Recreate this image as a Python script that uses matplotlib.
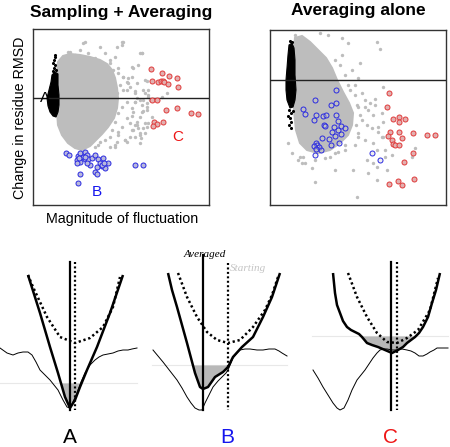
import numpy as np
import matplotlib
matplotlib.use("Agg")
import matplotlib.pyplot as plt

plt.rcParams['font.family'] = ['Liberation Sans', 'DejaVu Sans']

# positions are read off the picture, in pixels of the 450x447 image
# ---------------- top left: Sampling + Averaging ----------------
sa_core_x = [58, 63, 70, 80, 90, 100, 107, 112, 115, 117, 118, 117, 114, 108, 102, 96, 90, 82, 75, 68, 62, 58, 57, 57, 57]
sa_core_y = [62, 56, 54, 55, 57, 60, 64, 70, 78, 88, 98, 108, 118, 127, 134, 140, 146, 150, 148, 143, 135, 125, 110, 90, 75]
sa_gray_x = [83, 123, 122, 140, 68, 80, 110, 118, 132, 137, 143, 148, 140, 135, 147, 133, 140, 130, 135, 118,
             110, 100, 95, 87, 138, 140, 127, 115, 147, 150, 158, 162, 167, 123, 128, 100, 142, 133, 128, 147,
             127, 135, 145, 148, 137, 142, 147, 143, 132, 148, 115, 117, 125, 137, 140, 145, 133, 130,
             70, 75, 83, 88, 95, 105, 115, 110, 105, 113, 118, 123, 127, 113, 120, 130, 123, 135, 117, 127,
             135, 143, 122, 132, 142, 118, 127, 137, 145, 115, 122, 132, 140, 112, 118, 105, 135, 125, 141, 98,
             110, 85, 117, 122, 142, 132, 145, 138, 148, 147, 152, 143]
sa_gray_y = [43, 42, 45, 53, 52, 50, 60, 68, 77, 83, 90, 97, 100, 102, 103, 112, 117, 123, 125, 132,
             137, 142, 147, 143, 128, 143, 142, 147, 127, 100, 100, 97, 93, 77, 83, 47, 53, 68, 78, 81,
             90, 91, 93, 95, 98, 105, 110, 111, 116, 123, 145, 142, 140, 125, 135, 133, 130, 137,
             52, 55, 57, 53, 58, 53, 57, 63, 68, 70, 73, 77, 82, 80, 85, 87, 90, 93, 93, 102,
             102, 100, 107, 108, 112, 113, 118, 122, 123, 122, 127, 130, 133, 130, 135, 140, 137, 140, 138, 145,
             147, 42, 47, 42, 53, 67, 80, 65, 90, 107, 117, 128]
sa_black_x = [52, 55, 58, 58, 59, 59, 58, 56, 53, 50, 48, 47, 49, 51]
sa_black_y = [75, 72, 74, 85, 95, 105, 112, 117, 116, 112, 106, 98, 90, 82]
sa_black_pts_x = [55, 55, 54, 53, 55, 54, 53, 56]
sa_black_pts_y = [55, 57, 60, 63, 65, 68, 71, 70]
sa_red_x = [151, 162, 169, 177, 152, 158, 161, 163, 164, 168, 178, 152, 157, 166, 177, 191, 198, 154, 157, 163, 153]
sa_red_y = [69, 73, 76, 78, 81, 82, 81, 81, 82, 84, 87, 100, 100, 110, 108, 113, 114, 122, 124, 122, 126]
sa_blue_x = [66, 69, 78, 80, 85, 87, 83, 77, 80, 85, 88, 92, 95, 98, 103, 108, 100, 102, 105, 97,
             90, 87, 77, 95, 97, 80, 78, 102, 104, 135, 143, 85, 79]
sa_blue_y = [153, 155, 156, 153, 152, 155, 157, 160, 162, 159, 159, 158, 155, 159, 158, 163, 163, 166, 168, 167,
             165, 163, 163, 172, 174, 174, 183, 165, 163, 165, 165, 157, 158]

# ---------------- top right: Averaging alone ----------------
av_core_x = [295, 302, 310, 318, 326, 332, 337, 343, 349, 353, 352, 348, 340, 330, 318, 307, 300, 296, 294, 294, 294]
av_core_y = [38, 36, 42, 50, 58, 68, 80, 92, 103, 113, 125, 135, 143, 150, 153, 150, 143, 130, 110, 80, 55]
av_gray_x = [295, 320, 328, 342, 348, 360, 358, 377, 380, 352, 355, 350, 362, 365, 358, 368, 373, 362, 367, 372,
             378, 382, 358, 365, 373, 355, 345, 335, 325, 315, 305, 303, 312, 315, 335, 353, 357, 368, 377, 385,
             392, 415, 412, 377, 288, 292, 302, 383, 375, 370, 365, 375, 382, 383, 378, 383, 377, 385, 367, 373, 387,
             335, 340, 345, 342, 348, 355, 357, 360, 356, 358, 330, 338, 345, 300, 298]
av_gray_y = [35, 33, 35, 38, 43, 63, 78, 42, 49, 70, 85, 90, 93, 100, 107, 110, 115, 120, 125, 128,
             132, 137, 133, 140, 143, 145, 150, 153, 158, 160, 163, 157, 168, 182, 170, 170, 197, 173, 167, 157,
             155, 148, 157, 180, 143, 153, 163, 87, 99, 103, 107, 105, 113, 122, 127, 137, 150, 150, 160, 163, 170,
             60, 65, 75, 55, 85, 95, 105, 115, 125, 137, 157, 152, 145, 157, 160]
av_black_x = [289, 292, 294, 295, 295, 296, 295, 293, 290, 287, 286, 286, 287, 288]
av_black_y = [45, 43, 48, 60, 75, 90, 100, 107, 108, 100, 90, 80, 68, 55]
av_black_pts_x = [290, 292, 289, 291, 288, 290, 291, 289, 291, 293]
av_black_pts_y = [41, 42, 110, 113, 116, 118, 122, 125, 128, 111]
av_red_x = [389, 387, 393, 399, 399, 405, 390, 399, 413, 427, 435, 388, 392, 402, 393, 395, 399, 413, 404, 414,
            389, 398, 402]
av_red_y = [93, 107, 119, 117, 122, 119, 132, 132, 133, 135, 135, 136, 140, 138, 144, 145, 145, 153, 162, 179,
            184, 181, 185]
av_blue_x = [336, 315, 336, 331, 303, 305, 316, 314, 323, 326, 336, 338, 324, 325, 334, 341, 345, 338, 332, 341,
             335, 322, 329, 316, 317, 314, 319, 321, 331, 339, 315, 316, 372, 380]
av_blue_y = [90, 100, 103, 105, 109, 114, 115, 120, 116, 115, 115, 121, 125, 126, 127, 126, 128, 130, 132, 134,
             136, 138, 139, 143, 145, 146, 147, 150, 145, 143, 155, 149, 153, 160]

# ---------------- bottom: energy schematics A, B, C ----------------
a_thick_x = [28, 40, 50, 58, 65, 70, 75, 80, 87, 97, 110, 123]
a_thick_y = [275, 313, 347, 373, 397, 408, 400, 387, 370, 347, 313, 275]
a_dot_x = [28, 33, 47, 60, 75, 90, 103, 113, 120]
a_dot_y = [275, 287, 317, 337, 343, 338, 327, 307, 277]
a_thin_x = [0, 7, 13, 18, 23, 28, 32, 36, 40, 45, 50, 54, 58, 63, 67, 70, 73, 77, 81, 85, 90, 95, 99, 103,
            108, 113, 118, 123, 128, 132, 137]
a_thin_y = [348, 353, 355, 353, 352, 352, 355, 362, 370, 375, 380, 385, 390, 400, 407, 408, 402, 393, 382, 373,
            365, 360, 357, 355, 354, 353, 351, 350, 350, 349, 348]
a_level = 383
a_avg, a_start = 70, 75

b_thick_x = [168, 172, 177, 182, 187, 191, 195, 200, 203, 208, 215, 223, 228, 233, 242, 253, 263, 272, 280]
b_thick_y = [273, 290, 307, 325, 343, 358, 373, 387, 389, 387, 377, 372, 367, 357, 347, 337, 317, 297, 273]
b_dot_x = [178, 187, 197, 207, 217, 228, 240, 253, 265, 272, 278]
b_dot_y = [273, 297, 317, 332, 340, 343, 340, 327, 310, 295, 277]
b_thin_x = [153, 158, 163, 170, 177, 182, 187, 191, 195, 199, 202, 205, 209, 213, 218, 222, 226, 228, 231,
            233, 237, 240, 245, 250, 257, 263, 269, 275, 279, 282, 287]
b_thin_y = [350, 356, 362, 371, 380, 388, 397, 403, 408, 410, 410, 403, 395, 387, 381, 377, 373, 370, 363,
            358, 353, 350, 349, 349, 350, 350, 349, 349, 351, 353, 356]
b_level = 365
b_avg, b_start = 203, 228

c_thick_x = [333, 335, 337, 340, 343, 347, 351, 355, 359, 362, 367, 372, 378, 385, 392, 398, 403, 407, 411,
             415, 419, 423, 428, 432, 436, 440]
c_thick_y = [273, 293, 305, 313, 321, 327, 330, 332, 334, 337, 343, 345, 347, 350, 353, 350, 347, 343, 340,
             337, 333, 327, 317, 303, 290, 273]
c_dot_x = [348, 357, 367, 377, 387, 397, 407, 418, 430, 438]
c_dot_y = [273, 297, 317, 333, 342, 343, 338, 330, 310, 278]
c_thin_x = [313, 318, 323, 328, 333, 337, 340, 344, 348, 352, 357, 361, 365, 369, 373, 377, 380, 384, 387,
            392, 397, 402, 407, 411, 415, 419, 423, 427, 430, 434, 437, 442, 448]
c_thin_y = [370, 378, 387, 395, 403, 408, 410, 408, 400, 390, 380, 375, 370, 364, 358, 353, 350, 349, 349,
            350, 350, 349, 350, 351, 353, 356, 356, 354, 352, 350, 348, 348, 348]
c_level = 336
c_avg, c_start = 391, 397

W, H = 450, 447
fig = plt.figure(figsize=(4.5, 4.47), dpi=100)

gray = '#bdbdbd'


def top_panel(box, core, gray_pts, black_poly, black_pts, red, blue, hline, blue_face):
    x0, y0, x1, y1 = box
    ax = fig.add_axes([x0 / W, 1 - y1 / H, (x1 - x0) / W, (y1 - y0) / H])
    ax.set_xlim(x0, x1)
    ax.set_ylim(y1, y0)
    ax.set_xticks([])
    ax.set_yticks([])
    for s in ax.spines.values():
        s.set_color('#333333')
        s.set_linewidth(1.0)
    ax.fill(core[0], core[1], color=gray, lw=1.5, ec=gray, zorder=1)
    ax.scatter(gray_pts[0], gray_pts[1], s=6, color=gray, lw=0, zorder=1)
    ax.fill(black_poly[0], black_poly[1], color='black', lw=0.8, ec='black', zorder=2)
    ax.scatter(black_pts[0], black_pts[1], s=5, color='black', lw=0, zorder=2)
    ax.axhline(hline, color='#222222', lw=1.0, zorder=3)
    ax.scatter(red[0], red[1], s=13, facecolor='#e2b0b0', edgecolor='#e03a3a', lw=0.7, zorder=4)
    ax.scatter(blue[0], blue[1], s=13, facecolor=blue_face, edgecolor='#2a2ae0', lw=0.7, zorder=4)
    return ax


ax1 = top_panel((33, 29, 209, 205), (sa_core_x, sa_core_y), (sa_gray_x, sa_gray_y),
                (sa_black_x, sa_black_y), (sa_black_pts_x, sa_black_pts_y),
                (sa_red_x, sa_red_y), (sa_blue_x, sa_blue_y), 98, '#b8b8dc')
ax1.text(45, 98, 'A', fontsize=11, ha='center', va='center', color='black', zorder=5)
ax1.text(97, 192, 'B', fontsize=11, ha='center', va='center', color='#1515ee', zorder=5)
ax1.text(178, 137, 'C', fontsize=11, ha='center', va='center', color='#ee1515', zorder=5)

ax2 = top_panel((270, 30, 446, 205), (av_core_x, av_core_y), (av_gray_x, av_gray_y),
                (av_black_x, av_black_y), (av_black_pts_x, av_black_pts_y),
                (av_red_x, av_red_y), (av_blue_x, av_blue_y), 80, (0.8, 0.8, 0.8, 0.3))

fig.text(121 / W, 1 - 12 / H, 'Sampling + Averaging', fontsize=12.5, fontweight='bold', ha='center', va='center')
fig.text(358 / W, 1 - 10 / H, 'Averaging alone', fontsize=12.5, fontweight='bold', ha='center', va='center')
fig.text(20 / W, 1 - 118 / H, 'Change in residue RMSD', fontsize=10.3, rotation=90, ha='center', va='center')
fig.text(122 / W, 1 - 219 / H, 'Magnitude of fluctuation', fontsize=10.3, ha='center', va='center')

# bottom schematics, one axes in image pixel units
axb = fig.add_axes([0, 0, 1, 207 / H])
axb.set_xlim(0, W)
axb.set_ylim(H, 240)
axb.axis('off')

panels = [
    (a_thick_x, a_thick_y, a_dot_x, a_dot_y, a_thin_x, a_thin_y, a_level, a_avg, a_start, (0, 137), 262, 262, 'A', 'black', 70),
    (b_thick_x, b_thick_y, b_dot_x, b_dot_y, b_thin_x, b_thin_y, b_level, b_avg, b_start, (152, 287), 255, 263, 'B', '#1515ee', 227),
    (c_thick_x, c_thick_y, c_dot_x, c_dot_y, c_thin_x, c_thin_y, c_level, c_avg, c_start, (312, 448), 262, 262, 'C', '#ee1515', 390),
]
for tx, ty, dx, dy, nx, ny, lev, avg, start, span, vtop, stop, lab, col, lx in panels:
    tx = np.array(tx, float)
    ty = np.array(ty, float)
    axb.plot(span, [lev, lev], color='#e8e8e8', lw=0.8, zorder=1)
    axb.fill_between(tx, ty, lev, where=ty >= lev, interpolate=True, color='#b8b8b8', lw=0, zorder=2)
    axb.plot(nx, ny, color='black', lw=0.7, zorder=3)
    axb.plot(dx, dy, color='black', lw=1.8, linestyle=(0, (0.9, 1.1)), zorder=3)
    axb.plot(tx, ty, color='black', lw=1.8, zorder=4, solid_capstyle='butt')
    axb.plot([avg, avg], [vtop, 410], color='black', lw=1.6, zorder=4)
    axb.plot([start, start], [stop, 410], color='black', lw=1.6, linestyle=(0, (0.9, 1.1)), zorder=4)
    axb.text(lx, 437, lab, fontsize=15, color=col, ha='center', va='center')

axb.text(205, 254, 'Averaged', fontsize=8, style='italic', family=['Liberation Serif', 'DejaVu Serif'],
         ha='center', va='center', color='black')
axb.text(230, 268, 'Starting', fontsize=8, style='italic', family=['Liberation Serif', 'DejaVu Serif'],
         ha='left', va='center', color='#c4c4c4')

fig.savefig('out.png', dpi=100)
